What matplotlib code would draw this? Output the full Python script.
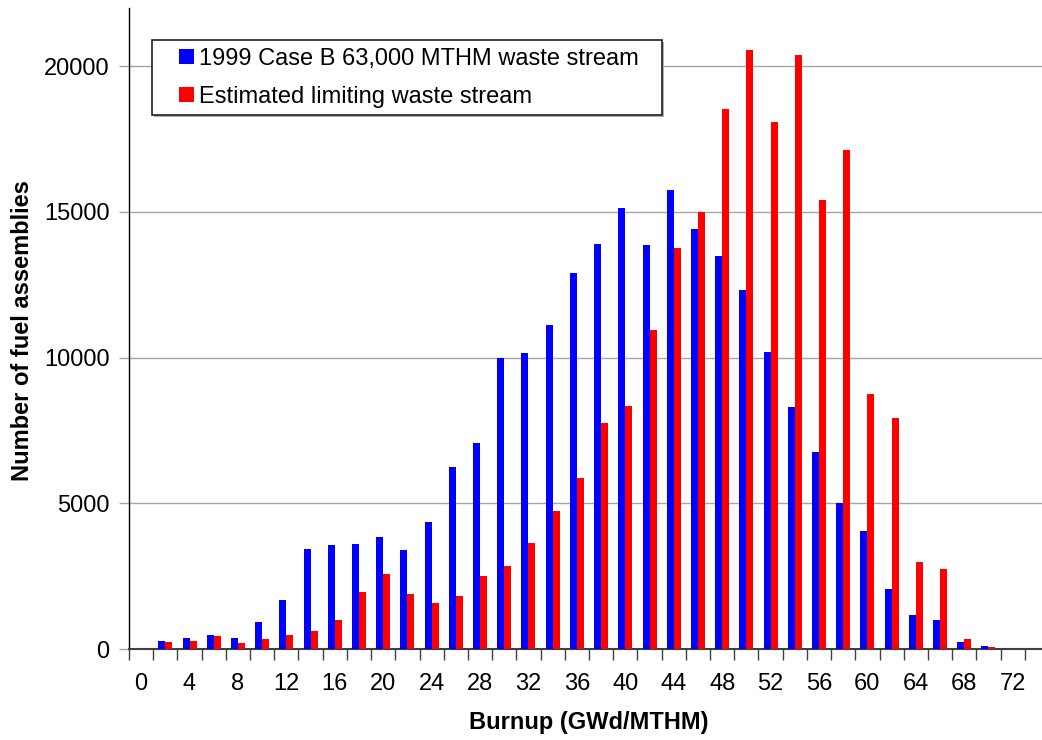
import matplotlib
matplotlib.use("Agg")
import matplotlib.pyplot as plt
from matplotlib.patches import Rectangle
import numpy as np

plt.rcParams['font.family'] = ['Liberation Sans', 'DejaVu Sans']

burnup = list(range(0, 74, 2))
case_b_1999 = [0, 285, 377, 480, 377, 926, 1680, 3430, 3568, 3602, 3842, 3396, 4357,
               6244, 7067, 10000, 10154, 11115, 12899, 13894, 15129, 13860, 15745,
               14408, 13482, 12316, 10189, 8302, 6758, 5009, 4048, 2060, 1168, 992,
               245, 95, 15]
limiting = [0, 250, 285, 446, 206, 343, 480, 617, 995, 1955, 2573, 1887, 1578,
            1818, 2504, 2847, 3630, 4730, 5866, 7753, 8336, 10940, 13756,
            14990, 18525, 20548, 18079, 20377, 15403, 17118, 8748, 7930, 2987, 2745,
            340, 68, 10]
series_labels = ["1999 Case B 63,000 MTHM waste stream", "Estimated limiting waste stream"]
yticks = [0, 5000, 10000, 15000, 20000]
xtick_labels = list(range(0, 76, 4))

W, H = 1042, 740
fig = plt.figure(figsize=(W / 100, H / 100), dpi=100)
ax = fig.add_axes([129 / W, 91 / H, 920 / W, 641 / H])

x = np.array(burnup, dtype=float)
bw = 0.58
b1 = ax.bar(x - bw / 2, case_b_1999, width=bw, color='#0000FF', label=series_labels[0], zorder=3)
b2 = ax.bar(x + bw / 2, limiting, width=bw, color='#FF0000', label=series_labels[1], zorder=3)

ax.set_xlim(-1, 75)
ax.set_ylim(0, 22000)

# y axis
ax.set_yticks(yticks)
ax.set_yticklabels([str(v) for v in yticks])
ax.yaxis.grid(True, color='#a6a6a6', linewidth=1.0, zorder=0)
ax.tick_params(axis='y', which='major', direction='out', length=7, width=1,
               color='#a6a6a6', labelsize=17, pad=7)

# x axis: tick marks at category boundaries, labels at category centres
ax.set_xticks(np.arange(-1, 76, 2))
ax.set_xticklabels([])
ax.set_xticks(xtick_labels, minor=True)
ax.set_xticklabels([str(v) for v in xtick_labels], minor=True)
ax.tick_params(axis='x', which='major', direction='out', length=8, width=1, color='#404040')
ax.tick_params(axis='x', which='minor', length=0, labelsize=17, pad=17)

for s in ['top', 'right']:
    ax.spines[s].set_visible(False)
ax.spines['left'].set_color('black')
ax.spines['left'].set_linewidth(1.0)
ax.spines['bottom'].set_color('#404040')
ax.spines['bottom'].set_linewidth(1.5)

ax.set_xlabel("Burnup (GWd/MTHM)", fontsize=17, fontweight='bold')
ax.xaxis.set_label_coords(0.5, (649 - 723) / 641)
ax.xaxis.label.set_va('center')
ax.set_ylabel("Number of fuel assemblies", fontsize=17, fontweight='bold')
ax.yaxis.set_label_coords((22 - 129) / 920, (649 - 331) / 641)
ax.yaxis.label.set_va('center')
ax.yaxis.label.set_ha('center')

# legend frame (with a light shadow), drawn inside the axes so the legend sits on top
shadow = Rectangle((154 / W, 1 - 117 / H), 510 / W, 75 / H, transform=fig.transFigure,
                   facecolor='#b0b0b0', edgecolor='none', zorder=4, clip_on=False)
frame = Rectangle((152 / W, 1 - 115 / H), 510 / W, 75 / H, transform=fig.transFigure,
                  facecolor='white', edgecolor='#202020', linewidth=1.2, zorder=5,
                  clip_on=False)
ax.add_artist(shadow)
ax.add_artist(frame)

leg = ax.legend(handles=[b1, b2], loc='upper left',
                bbox_to_anchor=(179 / W, 1 - 48 / H), bbox_transform=fig.transFigure,
                frameon=False, fontsize=17, borderpad=0, borderaxespad=0,
                handlelength=0.62, handleheight=0.62, handletextpad=0.22,
                labelspacing=0.66)
leg.set_zorder(6)

fig.savefig("out.png", dpi=100)
